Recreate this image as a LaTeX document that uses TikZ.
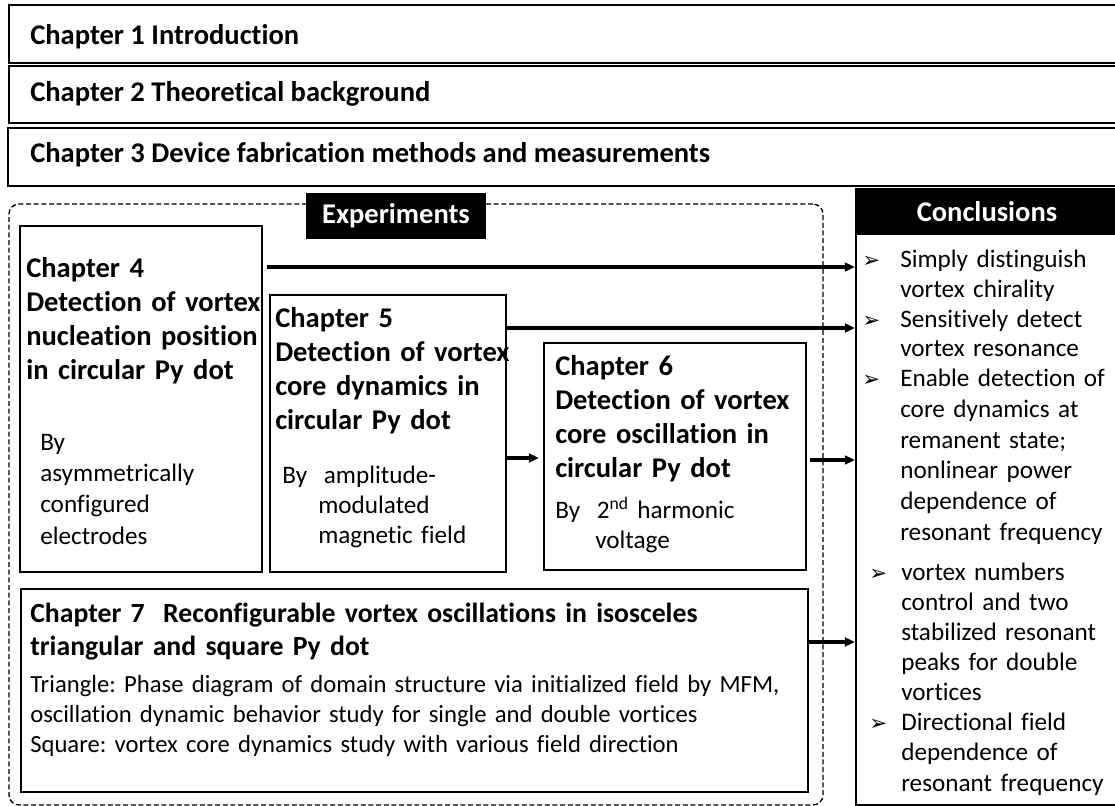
\documentclass[tikz,border=0pt]{standalone}
\usepackage{fontspec}
\setmainfont[Ligatures=NoCommon]{Carlito}
\newfontfamily\dingfont{DejaVu Sans}
\usepackage{tikz}
\usetikzlibrary{arrows.meta}
\usetikzlibrary{fit}
\frenchspacing
\tikzset{
    banner/.style={
        draw,
        line width=2pt,
        inner sep=0pt
    },
    chbox/.style={
        draw,
        line width=1.6pt,
        inner sep=0pt
    },
    blackbar/.style={
        fill=black,
        inner sep=0pt
    },
    headtext/.style={
        anchor=base west,
        inner sep=0pt,
        align=left,
        font=\fontsize{21.4}{25.7}\selectfont\bfseries
    },
    bodytext/.style={
        anchor=base west,
        inner sep=0pt,
        align=left,
        font=\fontsize{18.9}{22.5}\selectfont
    },
    bulletmark/.style={
        anchor=base west,
        inner sep=0pt,
        font=\dingfont\fontsize{16}{18}\selectfont
    },
    flow/.style={
        line width=2.4pt,
        -{Triangle[length=7.5pt, width=6.5pt]}
    }
}

\begin{document}
\begin{tikzpicture}[x=0.75pt, y=-0.75pt]
    \useasboundingbox (0,0) rectangle (1115,806);
    \clip (0,0) rectangle (1115,806);
    \fill[white] (0,0) rectangle (1115,806);

    % first three chapters, full width
    \node[banner, fit={(9,5) (1130,63)}] (ch1) {};
    \node[banner, fit={(9,66) (1130,123)}] (ch2) {};
    \node[banner, fit={(8,128) (1130,186)}] (ch3) {};
    \node[headtext] (ch1t) at (30,45) {Chapter 1 Introduction};
    \node[headtext] (ch2t) at (30,102) {Chapter 2 Theoretical background};
    \node[headtext] (ch3t) at (30,163) {Chapter 3 Device fabrication methods and measurements};

    % experiments frame
    \node[draw, line width=1pt, dash pattern=on 3.75pt off 2pt, rounded corners=7.5pt,
          inner sep=0pt, fit={(9,204) (823,805)}] (expzone) {};
    \node[blackbar, fit={(306,193) (486,239)}] (expbar) {};
    \node[headtext, anchor=base, text=white] (exptitle) at (396,224) {Experiments};

    \node[chbox, fit={(20,226) (262,572)}] (ch4) {};
    \node[chbox, fit={(270,295) (506,572)}] (ch5) {};
    \node[chbox, fit={(544,343) (806,570)}] (ch6) {};
    \node[chbox, fit={(21,589) (808,792)}] (ch7) {};

    \node[headtext, text width=200pt] (ch4head) at (26,277)
        {Chapter 4\\Detection of vortex\\nucleation position\\in circular Py dot};
    \node[bodytext, text width=160pt, font=\fontsize{18.9}{23.5}\selectfont] (ch4body) at (40,450)
        {By\\asymmetrically\\configured\\electrodes};

    \node[headtext, text width=200pt] (ch5head) at (275,327)
        {Chapter 5\\Detection of vortex\\core dynamics in\\circular Py dot};
    \node[bodytext, text width=170pt] (ch5body) at (282,483)
        {By\ \ amplitude-\\\hspace*{27pt}modulated\\\hspace*{27pt}magnetic field};

    \node[headtext, text width=200pt] (ch6head) at (555,375)
        {Chapter 6\\Detection of vortex\\core oscillation in\\circular Py dot};
    \node[bodytext, text width=180pt] (ch6body) at (555,518)
        {By\ \ 2\textsuperscript{nd} harmonic\\\hspace*{30pt}voltage};

    \node[headtext, text width=560pt, font=\fontsize{20.8}{25}\selectfont\bfseries] (ch7head) at (30,622)
        {Chapter 7~~Reconfigurable vortex oscillations in isosceles\\triangular and square Py dot};
    \node[bodytext, text width=580pt, font=\fontsize{18.5}{22.5}\selectfont] (ch7body) at (30,692)
        {Triangle: Phase diagram of domain structure via initialized field by MFM,\\
         oscillation dynamic behavior study for single and double vortices\\
         Square: vortex core dynamics study with various field direction};

    % conclusions column
    \node[chbox, fit={(856,189) (1118,805)}] (concl) {};
    \node[blackbar, fit={(856,189) (1118,235)}] (concbar) {};
    \node[headtext, anchor=base, text=white] (conctitle) at (987,222) {Conclusions};

    \node[bulletmark] (b1) at (862,268) {➢};
    \node[bulletmark] (b2) at (862,327) {➢};
    \node[bulletmark] (b3) at (862,387) {➢};
    \node[bulletmark] (b4) at (869,580) {➢};
    \node[bulletmark] (b5) at (869,730) {➢};

    \node[bodytext, text width=165pt] (c1) at (900,268) {Simply distinguish\\vortex chirality};
    \node[bodytext, text width=165pt] (c2) at (900,327) {Sensitively detect\\vortex resonance};
    \node[bodytext, text width=165pt, font=\fontsize{18.9}{23}\selectfont] (c3) at (900,387)
        {Enable detection of\\core dynamics at\\remanent state;\\nonlinear power\\dependence of\\resonant frequency};
    \node[bodytext, text width=165pt] (c4) at (901,580)
        {vortex numbers\\control and two\\stabilized resonant\\peaks for double\\vortices};
    \node[bodytext, text width=165pt, font=\fontsize{18.9}{22.9}\selectfont] (c5) at (901,730)
        {Directional field\\dependence of\\resonant frequency};

    % arrows
    \coordinate (lv1) at (0,267);
    \coordinate (lv2) at (0,328);
    \coordinate (lv3) at (0,458);
    \coordinate (lv4) at (0,460);
    \coordinate (lv5) at (0,642);
    \draw[flow, shorten <=3pt] (ch4.east |- lv1) -- (concl.west |- lv1);
    \draw[flow] (ch5.east |- lv2) -- (concl.west |- lv2);
    \draw[flow, shorten >=3pt] (ch5.east |- lv3) -- (ch6.west |- lv3);
    \draw[flow, shorten <=2pt] (ch6.east |- lv4) -- (concl.west |- lv4);
    \draw[flow] (ch7.east |- lv5) -- (concl.west |- lv5);
\end{tikzpicture}
\end{document}
